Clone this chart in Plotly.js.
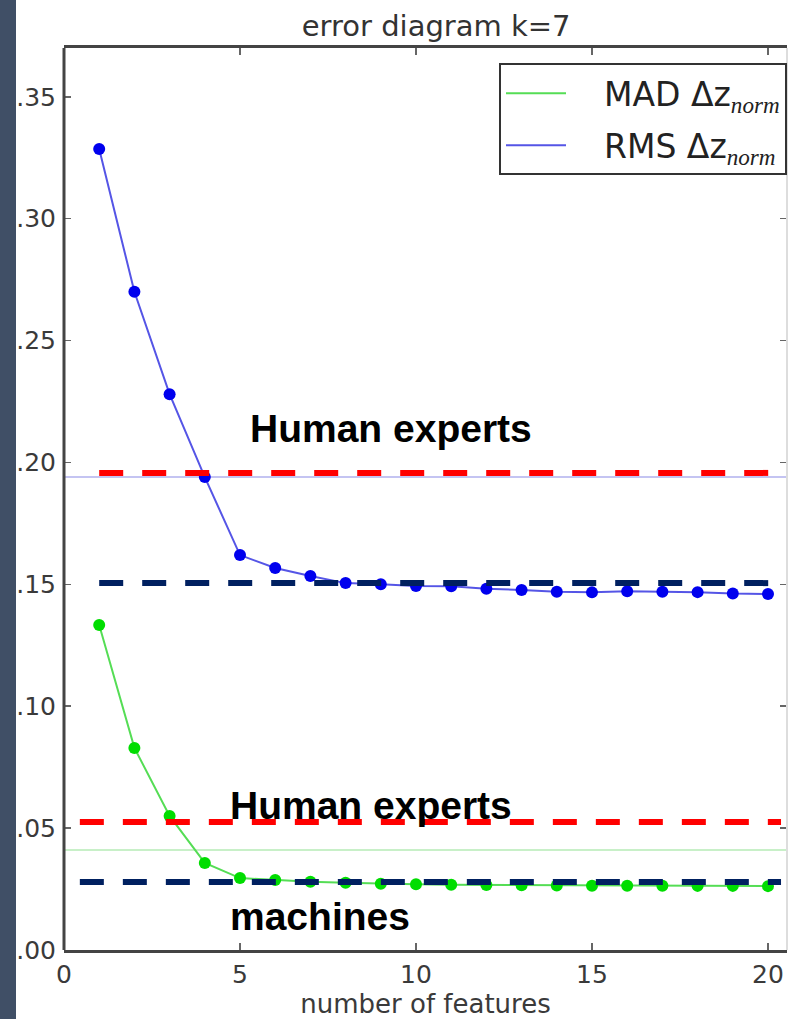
<!DOCTYPE html>
<html>
<head>
<meta charset="utf-8">
<script src="https://cdn.plot.ly/plotly-3.0.1.min.js"></script>
<style>
  html, body { margin:0; padding:0; overflow:hidden; background:#fff; }
  #chart { width:793px; height:1019px; }
  #strip { position:absolute; left:0; top:0; width:16px; height:1019px; background:#404f66; z-index:10; }
</style>
</head>
<body>
<div id="strip"></div>
<div id="chart"></div>
<script>
// ---- data ----
const features = [1,2,3,4,5,6,7,8,9,10,11,12,13,14,15,16,17,18,19,20];
const rmsValues = [0.3286,0.270,0.228,0.194,0.162,0.1567,0.1534,0.1505,0.1500,0.1493,0.1492,0.1482,0.1477,0.1470,0.1467,0.1472,0.1470,0.1468,0.1462,0.1460];
const madValues = [0.1333,0.0829,0.0550,0.0357,0.0295,0.0287,0.0280,0.0276,0.0272,0.0270,0.0268,0.0267,0.0266,0.0265,0.0264,0.0264,0.0264,0.0263,0.0263,0.0262];
const seriesNames = ['\u2002\u2002MAD \u0394z<sub><span style="font-family:Liberation Serif;font-style:italic">norm</span></sub>',
                     '\u2002\u2002RMS \u0394z<sub><span style="font-family:Liberation Serif;font-style:italic">norm</span></sub>'];
const faintLevels = [0.194, 0.041];            // light reference lines (RMS, MAD)
const humanLevels = [0.1957, 0.0525];          // red dashed "Human experts"
const machineLevels = [0.1505, 0.0279];        // navy dashed "machines"
const dashStart = [1.0, 0.45];                 // x start of dashed lines (upper, lower)
const dashEnd = 20.37;
const xTicks = [0,5,10,15,20];
const yTicks = [0,0.05,0.10,0.15,0.20,0.25,0.30,0.35];
const labels = [
  {text:'Human experts', x:5.23, y:0.2141},
  {text:'Human experts', x:4.66, y:0.0591},
  {text:'machines', x:4.66, y:0.0139}
];

const green = '#00dd00', greenLine = '#55dd55';
const blue = '#0000ee', blueLine = '#5555e6';

const traces = [
  {x:features, y:madValues, mode:'lines', name:seriesNames[0], legendgroup:'mad', line:{color:greenLine, width:2}},
  {x:features, y:rmsValues, mode:'lines', name:seriesNames[1], legendgroup:'rms', line:{color:blueLine, width:2}},
  {x:features, y:madValues, mode:'markers', showlegend:false, legendgroup:'mad', marker:{color:green, size:12}},
  {x:features, y:rmsValues, mode:'markers', showlegend:false, legendgroup:'rms', marker:{color:blue, size:12}}
];

const shapes = [];
shapes.push({type:'line', xref:'paper', yref:'y', x0:0, x1:1, y0:faintLevels[0], y1:faintLevels[0], line:{color:'#c4c4f2', width:2}, layer:'below'});
shapes.push({type:'line', xref:'paper', yref:'y', x0:0, x1:1, y0:faintLevels[1], y1:faintLevels[1], line:{color:'#c8f0c8', width:2}, layer:'below'});
for (let i=0;i<2;i++){
  shapes.push({type:'line', xref:'x', yref:'y', x0:dashStart[i], x1:dashEnd, y0:humanLevels[i], y1:humanLevels[i], line:{color:'#ff0000', width:6, dash:'24px,19px'}});
  shapes.push({type:'line', xref:'x', yref:'y', x0:dashStart[i], x1:dashEnd, y0:machineLevels[i], y1:machineLevels[i], line:{color:'#002060', width:6, dash:'24px,19px'}});
}
shapes.push({type:'line', xref:'paper', yref:'paper', x0:1, x1:1, y0:0, y1:1, line:{color:'#dddddd', width:2}});
shapes.push({type:'line', xref:'paper', yref:'paper', x0:0, x1:0, y0:0, y1:1, line:{color:'#444444', width:3}});

const annotations = labels.map(l => ({
  text:'<b>'+l.text+'</b>', x:l.x, y:l.y, xref:'x', yref:'y', xanchor:'left', yanchor:'middle',
  showarrow:false, font:{family:'Liberation Sans, Arial, sans-serif', size:39, color:'#000'}
}));

const layout = {
  width:793, height:1019,
  margin:{l:64, r:6, t:48, b:69},
  paper_bgcolor:'#fff', plot_bgcolor:'#fff',
  font:{family:'DejaVu Sans, sans-serif', color:'#333'},
  title:{text:'error diagram k=7', font:{size:29, color:'#333'}, x:0.55, xanchor:'center', y:0.975, yref:'container', yanchor:'middle'},
  xaxis:{range:[0,20.54], tickvals:xTicks, ticktext:xTicks.map(String), ticks:'inside', ticklen:7, tickcolor:'#666', tickwidth:1.5,
         showline:true, linecolor:'#444', linewidth:3, mirror:'ticks', showgrid:false, zeroline:false,
         tickfont:{size:25, color:'#3a3a3a'},
         title:{text:'number of features', font:{size:26, color:'#3a3a3a'}, standoff:4}},
  yaxis:{range:[0,0.37], tickvals:yTicks, ticktext:yTicks.map(v=>v.toFixed(2)), ticks:'inside', ticklen:7, tickcolor:'#666', tickwidth:1.5,
         showline:false, mirror:'ticks', showgrid:false, zeroline:false,
         tickfont:{size:25, color:'#3a3a3a'}, ticklabelstandoff:7},
  showlegend:true,
  legend:{x:1, xanchor:'right', y:0.983, yanchor:'top', bgcolor:'#fff', bordercolor:'#333', borderwidth:2,
          font:{size:33, color:'#222'}, itemwidth:60, tracegroupgap:6},
  shapes:shapes,
  annotations:annotations
};

Plotly.newPlot('chart', traces, layout, {displayModeBar:false, staticPlot:true});
</script>
</body>
</html>
